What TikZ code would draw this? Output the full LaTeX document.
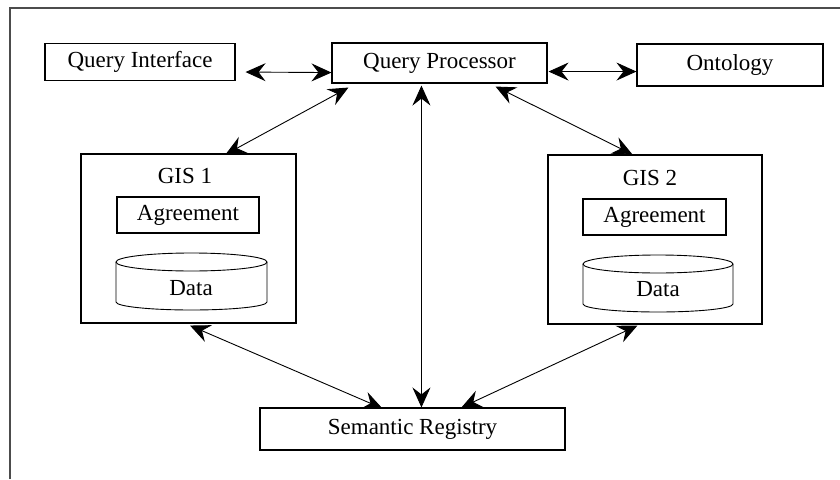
\documentclass[tikz,border=0pt]{standalone}
\usepackage{fontspec}
\setmainfont{Liberation Serif}
\usetikzlibrary{arrows.meta,calc}
\begin{document}
\begin{tikzpicture}[x=1pt,y=-1pt,
  every node/.style={font=\fontsize{23}{27}\selectfont},
  box/.style={draw,line width=1.1pt,inner sep=0pt},
  conn/.style={line width=0.9pt,{Stealth[length=20pt,width=18pt,inset=7pt]}-{Stealth[length=20pt,width=18pt,inset=7pt]}},
  cyl/.style={line width=0.9pt}]
\useasboundingbox (0,0) rectangle (840,479);
\fill[white] (0,0) rectangle (840,479);
\draw[line width=1.3pt,gray!60!black] (10,479) -- (10,8) -- (840,8);
% nodes
\node[box,minimum width=190pt,minimum height=37pt] (qi) at (140,62) {Query Interface};
\node[box,minimum width=215pt,minimum height=40pt] (qp) at (439.5,63) {Query Processor};
\node[box,minimum width=186pt,minimum height=42pt] (ont) at (730,65) {Ontology};
\node[box,minimum width=215pt,minimum height=169pt] (gis1) at (188.5,238.5) {};
\node (gis1l) at (185,176) {GIS 1};
\node[box,minimum width=142pt,minimum height=36pt] (agr1) at (188,215) {Agreement};
\node[box,minimum width=214pt,minimum height=169pt] (gis2) at (655,239.5) {};
\node (gis2l) at (650,178) {GIS 2};
\node[box,minimum width=143pt,minimum height=36pt] (agr2) at (654.5,217) {Agreement};
\node[box,minimum width=305pt,minimum height=42pt] (sr) at (412.5,429) {Semantic Registry};
% cylinders
\draw[cyl,fill=white] (116,262) -- (116,302) arc[start angle=180,end angle=360,x radius=75.5pt,y radius=8pt] -- (267,262);
\draw[cyl,fill=white] (191.5,262) ellipse[x radius=75.5pt,y radius=9pt];
\node (data1) at (191,288) {Data};
\draw[cyl,fill=white] (583,264) -- (583,304) arc[start angle=180,end angle=360,x radius=75pt,y radius=8pt] -- (733,264);
\draw[cyl,fill=white] (658,264) ellipse[x radius=75pt,y radius=9pt];
\node (data2) at (658,289) {Data};
% connectors
\draw[conn] ($(qi.south east)+(10,-9)$) -- ($(qp.south west)+(0,-11)$);
\draw[conn] ($(qp.south east)+(1,-12)$) -- ($(ont.south west)+(0,-15)$);
\draw[conn] ($(qp.south west)+(17,4)$) -- ($(gis1.north)+(37,1)$);
\draw[conn] ($(qp.south west)+(90,2)$) -- ($(sr.north west)+(162,0)$);
\draw[conn] ($(qp.south east)+(-52,3)$) -- ($(gis2.north west)+(85,0)$);
\draw[conn] ($(gis1.south)+(1.5,2)$) -- ($(sr.north west)+(123,1)$);
\draw[conn] ($(gis2.south west)+(90,1)$) -- ($(sr.north west)+(202,0)$);
\end{tikzpicture}
\end{document}
